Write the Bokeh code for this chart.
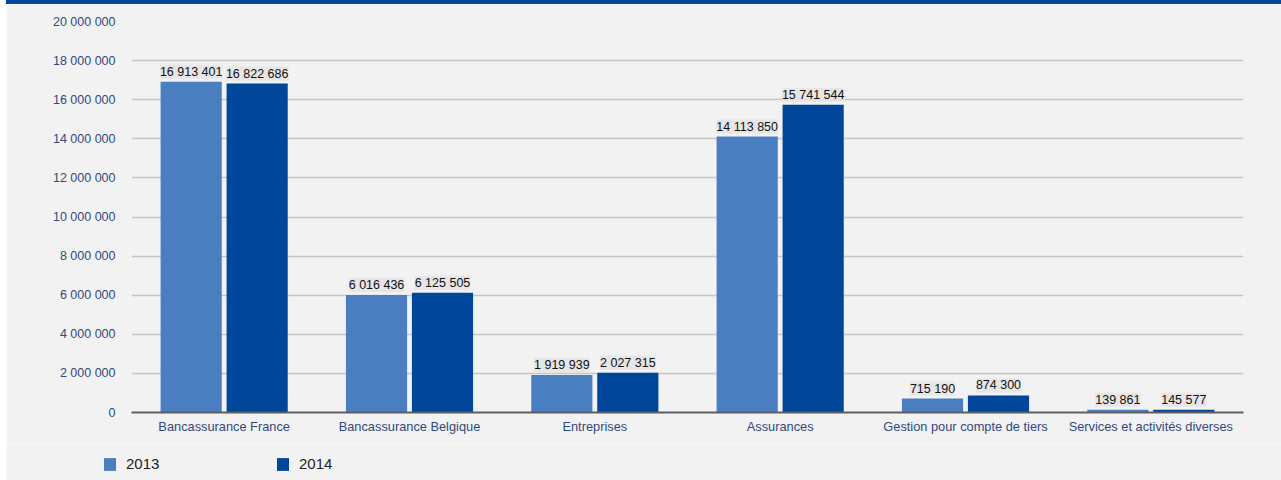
from bokeh.plotting import figure
from bokeh.models import (ColumnDataSource, FactorRange, Range1d, FixedTicker, CustomJSTickFormatter,
                          LabelSet, Legend, Spacer)
from bokeh.layouts import column, row
from bokeh.transform import dodge
from bokeh.core.properties import value
from bokeh.embed import file_html
from bokeh.resources import INLINE

categories = ["Bancassurance France", "Bancassurance Belgique", "Entreprises", "Assurances",
              "Gestion pour compte de tiers", "Services et activités diverses"]
values_2013 = [16913401, 6016436, 1919939, 14113850, 715190, 139861]
values_2014 = [16822686, 6125505, 2027315, 15741544, 874300, 145577]
years = ["2013", "2014"]
y_ticks = [0, 2000000, 4000000, 6000000, 8000000, 10000000, 12000000, 14000000, 16000000, 18000000, 20000000]

C2013 = "#4a7ec1"
C2014 = "#00479b"
BG = "#f2f2f2"
TXT = "#33487f"
FONT = "Liberation Sans"


def fmt(v):
    return f"{v:,}".replace(",", " ")


src = ColumnDataSource(dict(
    cat=categories,
    v2013=values_2013,
    v2014=values_2014,
    l2013=[fmt(v) for v in values_2013],
    l2014=[fmt(v) for v in values_2014],
))

p = figure(width=1275, height=440, x_range=FactorRange(*categories), y_range=Range1d(0, 20000000),
           output_backend="svg", toolbar_location=None,
           min_border_left=125, min_border_right=38, min_border_top=17, min_border_bottom=32)
p.frame_align = False
p.background_fill_color = BG
p.border_fill_color = BG
p.outline_line_color = None

r1 = p.vbar(x=dodge("cat", -0.178, range=p.x_range), top="v2013", width=0.33, source=src,
            fill_color=C2013, line_color=None)
r2 = p.vbar(x=dodge("cat", 0.178, range=p.x_range), top="v2014", width=0.33, source=src,
            fill_color=C2014, line_color=None)

for xcol, ycol, off in (("l2013", "v2013", -0.178), ("l2014", "v2014", 0.178)):
    lab = LabelSet(x=dodge("cat", off, range=p.x_range), y=ycol, text=xcol, source=src,
                   text_align="center", text_baseline="bottom", y_offset=3,
                   text_font=value(FONT), text_font_size=value("12.5px"), text_color="#111111",
                   background_fill_color="#e4e4e4", background_fill_alpha=0.85)
    p.add_layout(lab)

p.yaxis.ticker = FixedTicker(ticks=y_ticks)
p.yaxis.formatter = CustomJSTickFormatter(code="return tick.toFixed(0).replace(/\\B(?=(\\d{3})+(?!\\d))/g, ' ');")
p.yaxis.axis_line_color = None
p.yaxis.major_tick_line_color = None
p.yaxis.minor_tick_line_color = None
p.yaxis.major_tick_out = 0
p.yaxis.major_label_standoff = 16
p.yaxis.major_label_text_font = FONT
p.yaxis.major_label_text_font_size = "12.5px"
p.yaxis.major_label_text_color = TXT

p.xaxis.axis_line_color = "#5e5e5e"
p.xaxis.axis_line_width = 2
p.xaxis.major_tick_line_color = None
p.xaxis.minor_tick_line_color = None
p.xaxis.major_tick_out = 0
p.xaxis.major_label_standoff = 6
p.xaxis.major_label_text_font = FONT
p.xaxis.major_label_text_font_size = "12.8px"
p.xaxis.major_label_text_color = TXT

p.xgrid.grid_line_color = None
p.ygrid.ticker = FixedTicker(ticks=y_ticks)
p.ygrid.grid_line_color = "#c6c6c6"
p.ygrid.grid_line_width = 1.5

# legend strip below the chart (its zero-width bars are not drawn, only their legend swatches)
pl = figure(width=1275, height=36, x_range=FactorRange(*categories), y_range=Range1d(-40000000, -20000000),
            output_backend="svg", toolbar_location=None,
            min_border_left=0, min_border_right=0, min_border_top=0, min_border_bottom=0)
pl.frame_align = False
pl.axis.visible = False
pl.grid.visible = False
pl.outline_line_color = None
pl.background_fill_color = BG
pl.border_fill_color = BG
lr1 = pl.vbar(x=dodge("cat", -0.178, range=pl.x_range), top="v2013", width=0, source=src,
              fill_color=C2013, line_color=None)
lr2 = pl.vbar(x=dodge("cat", 0.178, range=pl.x_range), top="v2014", width=0, source=src,
              fill_color=C2014, line_color=None)
legend = Legend(items=[(years[0], [lr1]), (years[1], [lr2])], orientation="horizontal",
                location=(96, 8), padding=0, spacing=0, margin=0,
                glyph_width=15, glyph_height=16, label_standoff=9, label_width=149,
                label_text_font=FONT, label_text_font_size="15px", label_text_color="#222222",
                border_line_color=None, background_fill_alpha=0)
pl.add_layout(legend, "center")

band = Spacer(width=1275, height=4, styles={"background-color": "#004a99"})
layout = row(Spacer(width=6, height=480), column(band, p, pl, spacing=0), spacing=0)

open("out.html", "w").write(file_html(layout, INLINE))
